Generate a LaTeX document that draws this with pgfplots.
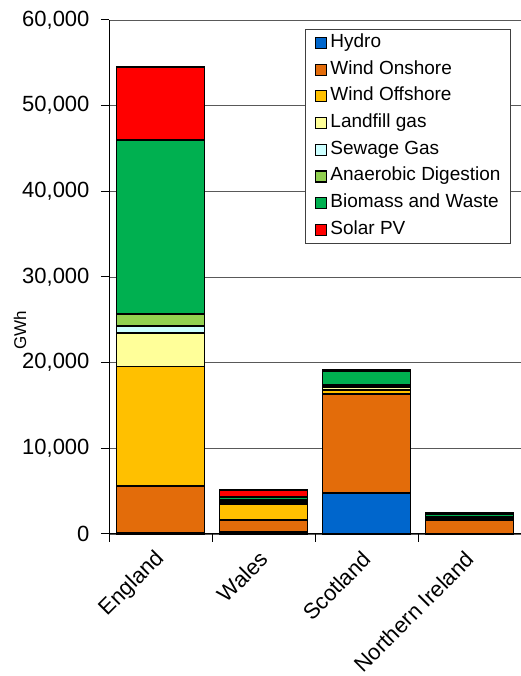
\documentclass[border=0pt]{standalone}
\usepackage{fontspec}
\setmainfont{Liberation Sans}
\usepackage{pgfplots}
\usepackage{pgfplotstable}
\pgfplotsset{compat=1.18}

\definecolor{cHydro}{RGB}{0,102,204}
\definecolor{cOnshore}{RGB}{227,108,10}
\definecolor{cOffshore}{RGB}{255,192,0}
\definecolor{cLandfill}{RGB}{255,255,153}
\definecolor{cSewage}{RGB}{204,255,255}
\definecolor{cAD}{RGB}{146,208,80}
\definecolor{cBiomass}{RGB}{0,176,80}
\definecolor{cSolar}{RGB}{255,0,0}

% GWh by country (0 England, 1 Wales, 2 Scotland, 3 Northern Ireland)
\pgfplotstableread{
cat Hydro Onshore Offshore Landfill Sewage AD   Biomass Solar
0   100   5500    13950    3910     820    1400 20310   8520
1   250   1380    1870     250      30     170  350     830
2   4790  11550   450      350      30     250  1600    120
3   30    1570    0        150      100    200  200     200
}\datatable

\begin{document}
\begin{tikzpicture}
\begin{axis}[
  at={(109pt,142pt)}, anchor=south west,
  scale only axis, width=412pt, height=514pt,
  ybar stacked, bar width=0.85, clip=false,
  xmin=-0.5, xmax=3.5, ymin=0, ymax=60000,
  xtick={0,1,2,3},
  xticklabels={England,Wales,Scotland,Northern Ireland},
  minor xtick={-0.5,0.5,1.5,2.5,3.5},
  major x tick style={draw=none},
  ytick={0,10000,...,60000},
  scaled y ticks=false,
  /pgf/number format/.cd, 1000 sep={,}, assume math mode=true, /pgfplots/.cd,
  axis lines=left, axis line style={-, line width=1pt, black},
  tick align=outside, major tick length=8pt, minor tick length=8pt,
  tick style={black, line width=1pt},
  ymajorgrids, grid style={black!65, line width=0.9pt},
  ticklabel style={font=\fontsize{22}{26}\selectfont},
  yticklabel style={xshift=-8pt},
  xticklabel style={yshift=-11pt, xshift=3pt, rotate=45, anchor=east},
  ylabel={\fontsize{17}{19}\selectfont GWh},
  every axis y label/.style={at={(rel axis cs:0,0.397)}, xshift=-89pt, rotate=90,
    anchor=center},
  every axis plot/.append style={draw=black, line width=1.5pt},
  legend cell align=left,
  legend image code/.code={\draw[#1, draw=black, line width=1.2pt] (0pt,-5.5pt) rectangle (11pt,5.5pt);},
  legend style={at={(rel axis cs:1,1)}, anchor=north east, xshift=-10pt, yshift=-9pt,
    draw=black!75, line width=1pt, font=\fontsize{19}{22}\selectfont,
    inner xsep=10pt, inner ysep=4pt, row sep=7.7pt, column sep=3pt,
    nodes={inner sep=0pt, text height=14pt, text depth=5pt}},
]
\addplot[fill=cHydro]    table[x=cat, y=Hydro]    {\datatable};
\addplot[fill=cOnshore]  table[x=cat, y=Onshore]  {\datatable};
\addplot[fill=cOffshore] table[x=cat, y=Offshore] {\datatable};
\addplot[fill=cLandfill] table[x=cat, y=Landfill] {\datatable};
\addplot[fill=cSewage]   table[x=cat, y=Sewage]   {\datatable};
\addplot[fill=cAD]       table[x=cat, y=AD]       {\datatable};
\addplot[fill=cBiomass]  table[x=cat, y=Biomass]  {\datatable};
\addplot[fill=cSolar]    table[x=cat, y=Solar]    {\datatable};
\legend{Hydro,Wind Onshore,Wind Offshore,Landfill gas,Sewage Gas,Anaerobic Digestion,Biomass and Waste,Solar PV}
\end{axis}
\pgfresetboundingbox
\path (0,0) rectangle (521pt,676pt);
\end{tikzpicture}
\end{document}
